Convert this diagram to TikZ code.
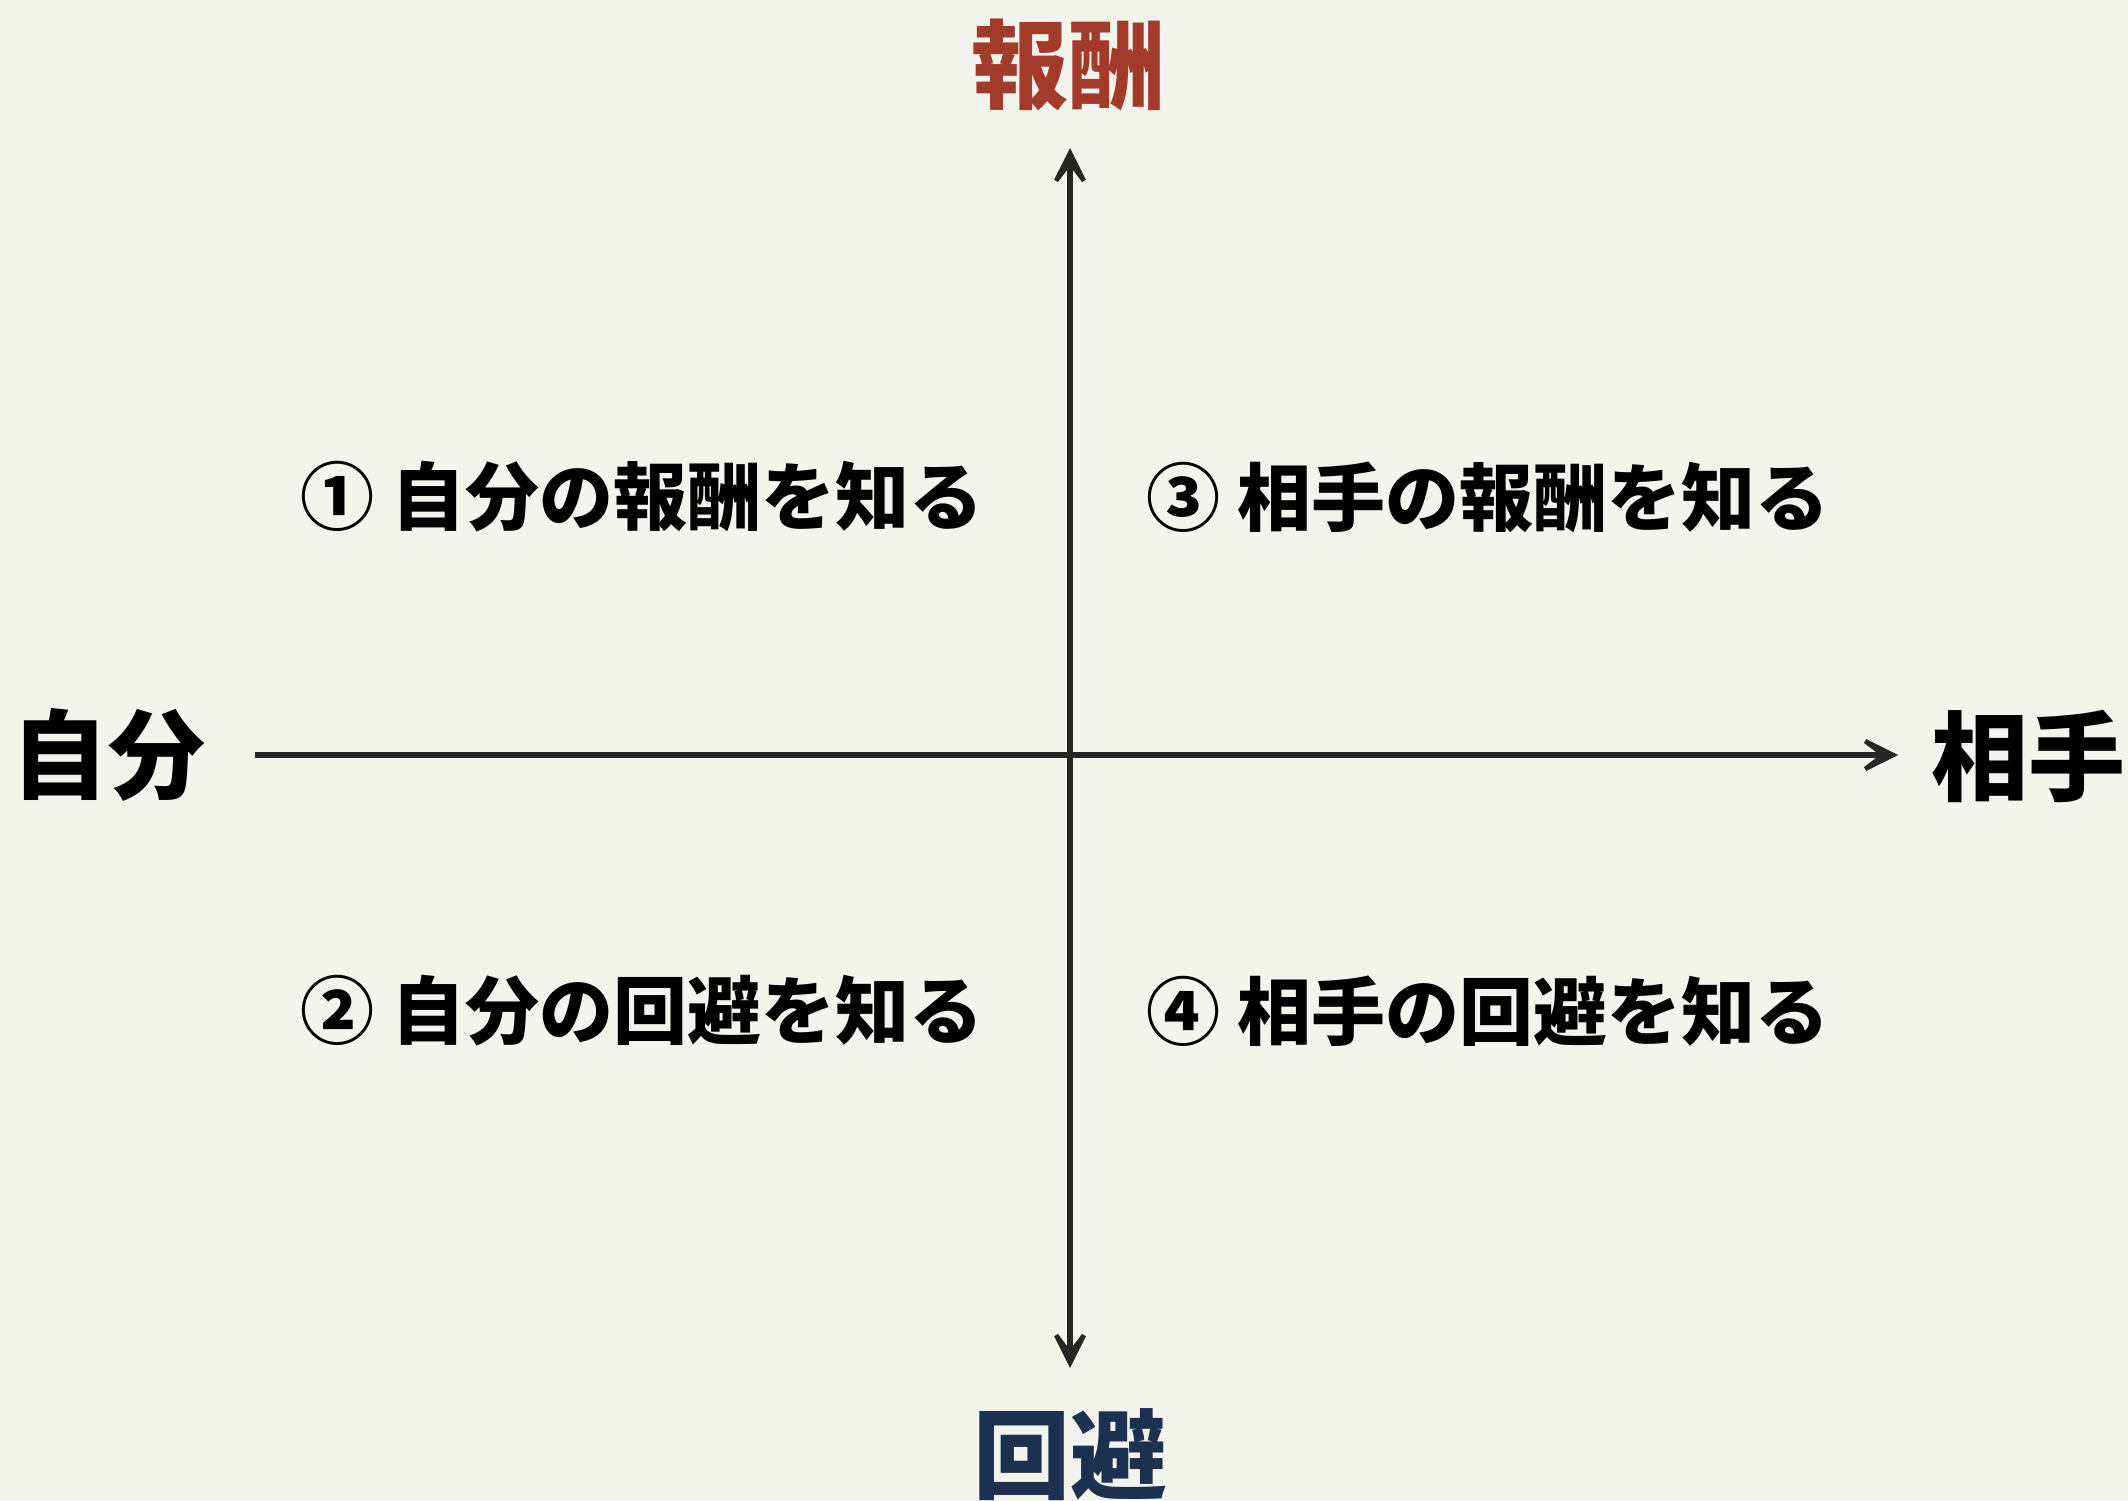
\documentclass[tikz,border=0pt]{standalone}
\usepackage{fontspec}
\newfontfamily\cjk{Noto Sans CJK JP}
\usetikzlibrary{arrows.meta}
\definecolor{bg}{HTML}{F4F4EF}
\definecolor{axisc}{HTML}{262626}
\definecolor{rewardc}{HTML}{A33B2B}
\definecolor{avoidc}{HTML}{1C3050}
\tikzset{
  tip/.style={Stealth[length=54pt,width=54pt,inset=36pt]},
  axisline/.style={draw=axisc, line width=6pt},
  biglabel/.style={font=\cjk\bfseries\fontsize{97}{97}\selectfont, inner sep=0pt},
  quadlabel/.style={font=\cjk\bfseries\fontsize{74}{74}\selectfont, inner sep=0pt, text=black},
}
\begin{document}
\begin{tikzpicture}[x=1pt,y=1pt]
\fill[bg] (0,0) rectangle (2128,1500);
\useasboundingbox (0,0) rectangle (2128,1500);
% axis end points
\coordinate (L) at (255,745);
\coordinate (R) at (1898,745);
\coordinate (T) at (1070,1352);
\coordinate (B) at (1070,132);
\draw[axisline, -{Stealth[length=54pt,width=54pt,inset=36pt]}] (L) -- (R);
\draw[axisline, {Stealth[length=54pt,width=54pt,inset=36pt]}-{Stealth[length=54pt,width=54pt,inset=36pt]}] (B) -- (T);
% axis labels
\node[biglabel, text=rewardc] (reward) at (1068,1435) {報酬};
\node[biglabel, text=avoidc] (avoid) at (1070,45) {回避};
\node[biglabel, text=black] (self) at (108,745) {自分};
\node[biglabel, text=black] (other) at (2028,744) {相手};
% quadrant labels
\node[quadlabel] (q1) at (642,1003) {① 自分の報酬を知る};
\node[quadlabel] (q3) at (1488,1003) {③ 相手の報酬を知る};
\node[quadlabel] (q2) at (642,489) {② 自分の回避を知る};
\node[quadlabel] (q4) at (1488,489) {④ 相手の回避を知る};
\end{tikzpicture}
\end{document}
